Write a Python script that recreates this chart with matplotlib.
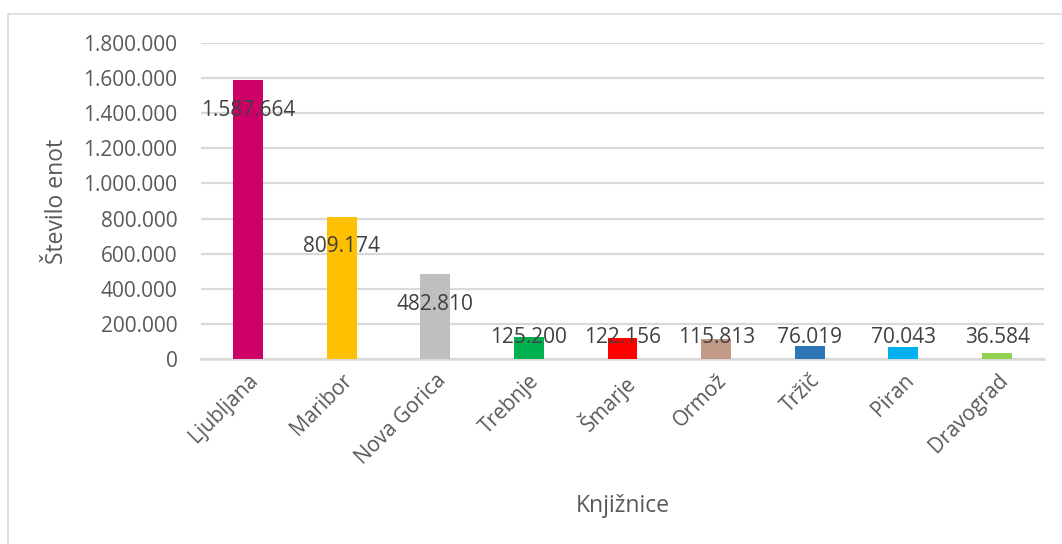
import matplotlib.pyplot as plt
from matplotlib.patches import Rectangle
from matplotlib.ticker import FuncFormatter

# podatki
knjiznice = ['Ljubljana', 'Maribor', 'Nova Gorica', 'Trebnje', 'Šmarje',
             'Ormož', 'Tržič', 'Piran', 'Dravograd']
enote = [1587664, 809174, 482810, 125200, 122156, 115813, 76019, 70043, 36584]
barve = ['#CC0066', '#FFC000', '#BFBFBF', '#00B050', '#FF0000',
         '#C39A88', '#2E75B6', '#00B0F0', '#92D050']


def fmt(v):
    return f'{int(v):,}'.replace(',', '.')


def figure():
    plt.rcParams['font.family'] = ['Open Sans', 'DejaVu Sans']
    fig = plt.figure(figsize=(10.62, 5.44), dpi=100)
    ax = fig.add_axes([0.1893, 0.340, 0.7937, 0.581])

    # okvir grafa
    fig.patches.append(Rectangle((8 / 1062, -0.01), 1.0, (544 - 14) / 544 + 0.01,
                                 transform=fig.transFigure, fill=False,
                                 edgecolor='#D9D9D9', linewidth=1.2))

    x = range(len(knjiznice))
    ax.bar(x, enote, width=0.32, color=barve, zorder=3)

    # oznake vrednosti
    for i, v in enumerate(enote):
        y = max(v - 170000, 125000)
        ax.text(i, y, fmt(v), ha='center', va='center', fontsize=15,
                color='#404040', zorder=4)

    ax.set_xlim(-0.5, len(knjiznice) - 0.5)
    ax.set_ylim(0, 1800000)
    ax.set_yticks(range(0, 1800001, 200000))
    ax.yaxis.set_major_formatter(FuncFormatter(lambda v, p: fmt(v)))
    ax.set_xticks(list(x))
    ax.set_xticklabels(knjiznice, rotation=45, ha='right', rotation_mode='anchor')

    ax.grid(axis='y', color='#D9D9D9', linewidth=1.6, zorder=0)
    for s in ['top', 'right', 'left']:
        ax.spines[s].set_visible(False)
    ax.spines['bottom'].set_color('#D9D9D9')
    ax.spines['bottom'].set_linewidth(1.8)
    ax.tick_params(axis='both', length=0, labelsize=15, colors='#595959')
    ax.tick_params(axis='y', pad=17)
    ax.tick_params(axis='x', pad=8)

    ax.set_xlabel('Knjižnice', fontsize=16.5, color='#595959', labelpad=18)
    ax.set_ylabel('Število enot', fontsize=16.5, color='#595959', labelpad=10)

    plt.savefig('out.png', dpi=100)


if __name__ == '__main__':
    figure()
